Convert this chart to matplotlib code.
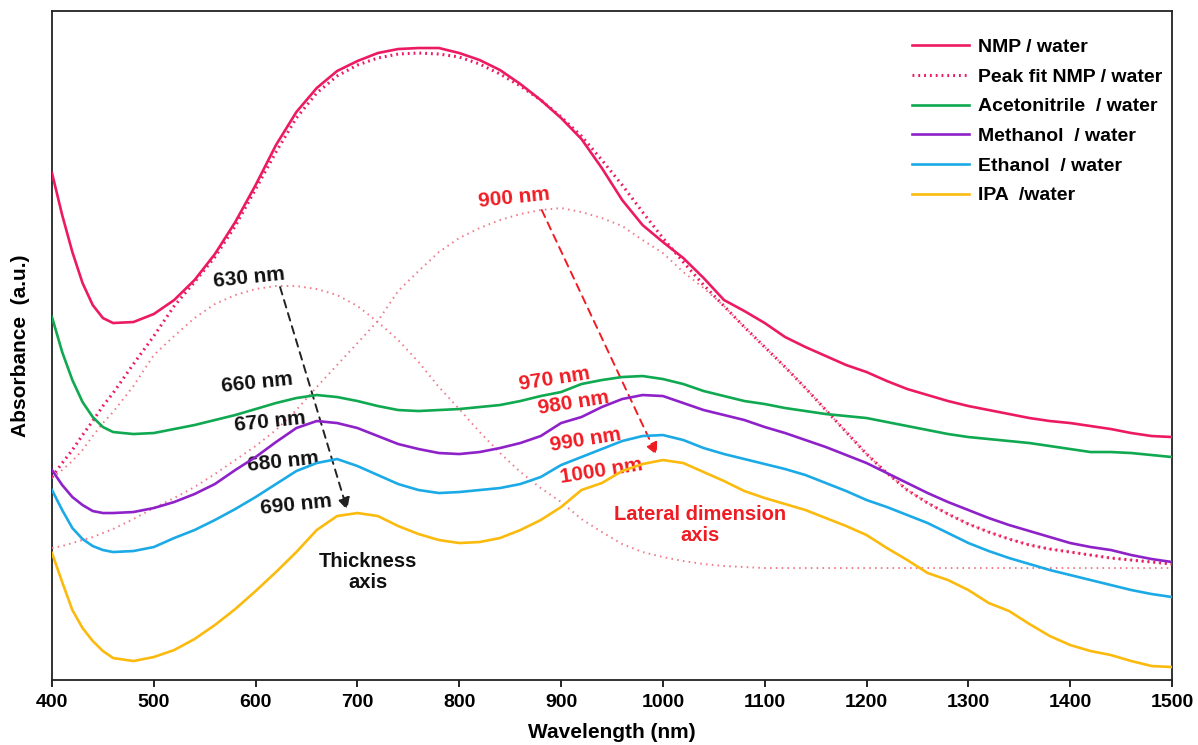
import matplotlib
matplotlib.use("Agg")
import matplotlib.pyplot as plt
import numpy as np

plt.rcParams['font.family'] = ['Liberation Sans', 'DejaVu Sans']
plt.rcParams['font.weight'] = 'bold'

# Wavelength grid (nm)
wavelength = [400, 410, 420, 430, 440, 450, 460] + list(range(480, 1501, 20))

# Absorbance (a.u.)
nmp = [5.07, 4.65, 4.28, 3.97, 3.75, 3.62, 3.57, 3.58, 3.66, 3.80, 4.00, 4.26, 4.58, 4.95,
       5.35, 5.68, 5.92, 6.09, 6.19, 6.27, 6.31, 6.32, 6.32, 6.27, 6.20, 6.10, 5.96, 5.80,
       5.62, 5.41, 5.12, 4.80, 4.55, 4.38, 4.22, 4.02, 3.80, 3.69, 3.57, 3.43, 3.33, 3.24,
       3.15, 3.08, 2.99, 2.91, 2.85, 2.79, 2.74, 2.70, 2.66, 2.62, 2.59, 2.57, 2.54, 2.51,
       2.47, 2.44, 2.43]
peak_fit = [2.03, 2.17, 2.30, 2.45, 2.59, 2.74, 2.87, 3.16, 3.44, 3.74, 3.98, 4.23, 4.54,
            4.91, 5.28, 5.62, 5.87, 6.04, 6.15, 6.22, 6.26, 6.27, 6.26, 6.23, 6.16, 6.06,
            5.94, 5.80, 5.63, 5.44, 5.20, 4.95, 4.68, 4.42, 4.18, 3.95, 3.74, 3.53, 3.33,
            3.13, 2.92, 2.70, 2.48, 2.26, 2.07, 1.90, 1.77, 1.66, 1.56, 1.48, 1.41, 1.35,
            1.31, 1.28, 1.25, 1.22, 1.20, 1.18, 1.16]
peak_630 = [2.02, 2.10, 2.19, 2.30, 2.44, 2.57, 2.68, 2.94, 3.25, 3.44, 3.62, 3.76, 3.85,
            3.91, 3.94, 3.94, 3.91, 3.85, 3.74, 3.58, 3.40, 3.18, 2.93, 2.71, 2.48, 2.27,
            2.08, 1.92, 1.78, 1.61, 1.48, 1.36, 1.28, 1.23, 1.19, 1.16, 1.14, 1.13, 1.12,
            1.12, 1.12, 1.12, 1.12, 1.12, 1.12, 1.12, 1.12, 1.12, 1.12, 1.12, 1.12, 1.12,
            1.12, 1.12, 1.12, 1.12, 1.12, 1.12, 1.12]
peak_900 = [1.32, 1.34, 1.37, 1.40, 1.43, 1.47, 1.51, 1.61, 1.72, 1.82, 1.93, 2.06, 2.20,
            2.34, 2.50, 2.70, 2.93, 3.15, 3.37, 3.59, 3.89, 4.09, 4.28, 4.42, 4.52, 4.60,
            4.66, 4.70, 4.72, 4.68, 4.62, 4.54, 4.40, 4.27, 4.08, 3.92, 3.74, 3.53, 3.33,
            3.13, 2.92, 2.70, 2.48, 2.26, 2.07, 1.90, 1.77, 1.66, 1.56, 1.48, 1.41, 1.35,
            1.31, 1.28, 1.25, 1.22, 1.20, 1.18, 1.16]
acetonitrile = [3.63, 3.28, 3.00, 2.78, 2.63, 2.53, 2.48, 2.46, 2.47, 2.51, 2.55, 2.60,
                2.65, 2.71, 2.77, 2.82, 2.85, 2.83, 2.79, 2.74, 2.70, 2.69, 2.70, 2.71,
                2.73, 2.75, 2.79, 2.84, 2.88, 2.96, 3.00, 3.03, 3.04, 3.01, 2.96, 2.89,
                2.84, 2.79, 2.76, 2.72, 2.69, 2.66, 2.64, 2.62, 2.58, 2.54, 2.50, 2.46,
                2.43, 2.41, 2.39, 2.37, 2.34, 2.31, 2.28, 2.28, 2.27, 2.25, 2.23]
methanol = [2.10, 1.95, 1.83, 1.75, 1.69, 1.67, 1.67, 1.68, 1.72, 1.78, 1.86, 1.96, 2.10,
            2.23, 2.38, 2.52, 2.59, 2.57, 2.52, 2.44, 2.36, 2.31, 2.27, 2.26, 2.28, 2.32,
            2.37, 2.44, 2.57, 2.63, 2.73, 2.81, 2.85, 2.84, 2.77, 2.70, 2.65, 2.60, 2.53,
            2.47, 2.40, 2.33, 2.25, 2.17, 2.07, 1.97, 1.87, 1.78, 1.70, 1.62, 1.55, 1.49,
            1.43, 1.37, 1.33, 1.30, 1.25, 1.21, 1.18]
ethanol = [1.90, 1.70, 1.52, 1.41, 1.34, 1.30, 1.28, 1.29, 1.33, 1.42, 1.50, 1.60, 1.71,
           1.83, 1.96, 2.09, 2.17, 2.21, 2.14, 2.05, 1.96, 1.90, 1.87, 1.88, 1.90, 1.92,
           1.96, 2.03, 2.15, 2.23, 2.31, 2.39, 2.44, 2.45, 2.40, 2.32, 2.26, 2.21, 2.16,
           2.11, 2.05, 1.97, 1.89, 1.80, 1.73, 1.65, 1.57, 1.47, 1.37, 1.29, 1.22, 1.16,
           1.10, 1.05, 1.00, 0.95, 0.90, 0.86, 0.83]
ipa = [1.27, 0.98, 0.70, 0.52, 0.39, 0.29, 0.22, 0.19, 0.23, 0.30, 0.41, 0.55, 0.71, 0.89,
       1.08, 1.28, 1.50, 1.64, 1.67, 1.64, 1.54, 1.46, 1.40, 1.37, 1.38, 1.42, 1.50, 1.60,
       1.73, 1.90, 1.97, 2.09, 2.16, 2.20, 2.17, 2.08, 1.99, 1.89, 1.82, 1.76, 1.70, 1.62,
       1.54, 1.45, 1.32, 1.20, 1.07, 1.00, 0.90, 0.77, 0.69, 0.56, 0.44, 0.35, 0.29, 0.25,
       0.19, 0.14, 0.13]

xticks = list(range(400, 1501, 100))

C_NMP = '#EC1A63'
C_FIT = '#F07A8A'
C_ACN = '#10A850'
C_MEOH = '#8E22C8'
C_ETOH = '#1BAAE6'
C_IPA = '#FBBA0E'
C_RED = '#F01C24'

fig = plt.figure(figsize=(11.98, 7.45), dpi=100)
ax = fig.add_axes([0.0434, 0.0872, 0.9349, 0.898])

lw = 1.9
ax.plot(wavelength, nmp, color=C_NMP, lw=lw, label='NMP / water', zorder=5)
ax.plot(wavelength, peak_fit, color=C_NMP, lw=2.2, ls=(0, (0.6, 1.3)),
        label='Peak fit NMP / water', zorder=4)
ax.plot(wavelength, peak_630, color=C_FIT, lw=1.4, ls=(0, (0.8, 2.2)), zorder=3)
ax.plot(wavelength, peak_900, color=C_FIT, lw=1.4, ls=(0, (0.8, 2.2)), zorder=3)
ax.plot(wavelength, acetonitrile, color=C_ACN, lw=lw, label='Acetonitrile  / water', zorder=5)
ax.plot(wavelength, methanol, color=C_MEOH, lw=lw, label='Methanol  / water', zorder=5)
ax.plot(wavelength, ethanol, color=C_ETOH, lw=lw, label='Ethanol  / water', zorder=5)
ax.plot(wavelength, ipa, color=C_IPA, lw=lw, label='IPA  /water', zorder=5)

ax.set_xlim(400, 1500)
ax.set_ylim(0, 6.69)
ax.set_xticks(xticks)
ax.set_yticks([])
ax.tick_params(axis='x', direction='out', length=5, width=1.2, labelsize=14, pad=5)
for lab in ax.get_xticklabels():
    lab.set_fontweight('bold')
for sp in ax.spines.values():
    sp.set_linewidth(1.3)
    sp.set_color('#222222')

ax.set_xlabel('Wavelength (nm)', fontsize=15, fontweight='bold', labelpad=9)
ax.set_ylabel('Absorbance  (a.u.)', fontsize=15, fontweight='bold', labelpad=16)

leg = ax.legend(loc='upper left', bbox_to_anchor=(0.768, 0.959), frameon=False,
                fontsize=14, handlelength=2.9, handletextpad=0.5, labelspacing=0.62,
                borderaxespad=0, borderpad=0)
for t in leg.get_texts():
    t.set_fontweight('bold')

# Thickness axis annotations
ax.annotate('', xy=(690, 1.70), xytext=(624, 3.93),
            arrowprops=dict(arrowstyle='-|>', color='#222222', lw=1.4, ls=(0, (4, 3)),
                            mutation_scale=18, shrinkA=0, shrinkB=0))
for txt, x, y in [('630 nm', 594, 4.02), ('660 nm', 601, 2.97), ('670 nm', 614, 2.58),
                  ('680 nm', 627, 2.18), ('690 nm', 640, 1.75)]:
    ax.text(x, y, txt, fontsize=15, fontweight='bold', color='#111111',
            ha='center', va='center', rotation=6)
ax.text(710, 1.08, 'Thickness\naxis', fontsize=14.5, fontweight='bold', color='#111111',
        ha='center', va='center', linespacing=1.1)

# Lateral dimension annotations
ax.annotate('', xy=(994, 2.25), xytext=(881, 4.70),
            arrowprops=dict(arrowstyle='-|>', color=C_RED, lw=1.4, ls=(0, (4, 3)),
                            mutation_scale=18, shrinkA=0, shrinkB=0))
ax.text(854, 4.82, '900 nm', fontsize=15, fontweight='bold', color=C_RED,
        ha='center', va='center', rotation=6)
for txt, x, y in [('970 nm', 894, 3.01), ('980 nm', 912, 2.77), ('990 nm', 924, 2.40),
                  ('1000 nm', 940, 2.09)]:
    ax.text(x, y, txt, fontsize=15, fontweight='bold', color=C_RED,
            ha='center', va='center', rotation=9)
ax.text(1036, 1.55, 'Lateral dimension\naxis', fontsize=14.5, fontweight='bold', color=C_RED,
        ha='center', va='center', linespacing=1.1)

fig.savefig('out.png', dpi=100)
